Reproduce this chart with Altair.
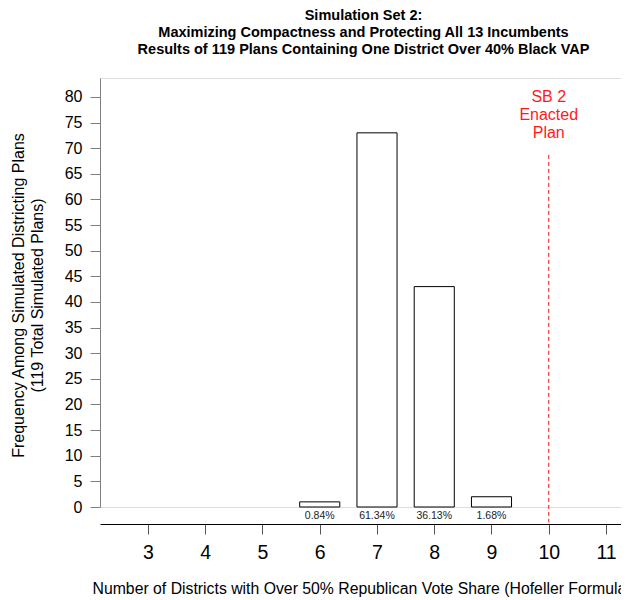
import altair as alt
import pandas as pd

FONT = "Liberation Sans"

districts = [6, 7, 8, 9]
frequencies = [1, 73, 43, 2]
percent_labels = ["0.84%", "61.34%", "36.13%", "1.68%"]
x_ticks = [3, 4, 5, 6, 7, 8, 9, 10, 11]
y_ticks = list(range(0, 85, 5))
enacted_value = [10]
enacted_label = ["SB 2\nEnacted\nPlan"]
title_lines = [
    "Simulation Set 2:",
    "Maximizing Compactness and Protecting All 13 Incumbents",
    "Results of 119 Plans Containing One District Over 40% Black VAP",
]
x_title = "Number of Districts with Over 50% Republican Vote Share (Hofeller Formula)"
y_title = ["Frequency Among Simulated Districting Plans", "(119 Total Simulated Plans)"]

half = 0.35
bars_df = pd.DataFrame({
    "d": districts,
    "f": frequencies,
    "lab": percent_labels,
})
bars_df["x0"] = bars_df["d"] - half
bars_df["x1"] = bars_df["d"] + half
bars_df["zero"] = 0

enact_df = pd.DataFrame({"x": enacted_value, "lab": enacted_label})
enact_df["top"] = 68.7
enact_df["bot"] = -3.0
enact_df["ly"] = 80.0

xs = alt.Scale(domain=[2.1616, 11.262], nice=False, zero=False)
ys = alt.Scale(domain=[0, 83.7], nice=False, zero=False)

xaxis = alt.Axis(
    values=x_ticks, title=x_title, grid=False, offset=17,
    domainColor="black", tickColor="#555555", tickSize=10,
    labelFont=FONT, labelFontSize=19.5, labelColor="black", labelPadding=9,
    titleFont=FONT, titleFontSize=15.8, titleFontWeight="normal", titleColor="black",
    titleAlign="left", titleX=-8, titleY=64, titleBaseline="middle",
)
yaxis = alt.Axis(
    values=y_ticks, title=y_title, grid=False,
    domainColor="#808080", tickColor="#808080", tickSize=10,
    labelFont=FONT, labelFontSize=16, labelColor="black", labelPadding=8,
    titleFont=FONT, titleFontSize=16, titleFontWeight="normal", titleColor="black",
    titleAngle=270, titleX=-82, titleY=217, titleBaseline="middle", titleLineHeight=19,
    titleAlign="center",
)

bars = alt.Chart(bars_df).mark_rect(fill="white", stroke="black", strokeWidth=1).encode(
    x=alt.X("x0:Q", scale=xs, axis=xaxis),
    x2="x1",
    y=alt.Y("f:Q", scale=ys, axis=yaxis),
    y2="zero",
)

pct = alt.Chart(bars_df).mark_text(
    font=FONT, fontSize=10.5, color="#222222", baseline="middle", align="center", dy=9
).encode(
    x=alt.X("d:Q", scale=xs, axis=xaxis),
    y=alt.Y("zero:Q", scale=ys, axis=yaxis),
    text="lab:N",
)

rule = alt.Chart(enact_df).mark_rule(color="#e8141c", strokeDash=[4, 3], strokeWidth=1).encode(
    x=alt.X("x:Q", scale=xs, axis=xaxis),
    y=alt.Y("top:Q", scale=ys, axis=yaxis),
    y2="bot",
)

label = alt.Chart(enact_df).mark_text(
    font=FONT, fontSize=16, color="#ff1a1a", baseline="middle", align="center",
    lineBreak="\n", lineHeight=18,
).encode(
    x=alt.X("x:Q", scale=xs, axis=xaxis),
    y=alt.Y("ly:Q", scale=ys, axis=yaxis),
    text="lab:N",
)

chart = alt.layer(bars, pct, rule, label).properties(
    width=521,
    height=429,
    autosize=alt.AutoSizeParams(type="none"),
    padding={"left": 92, "top": 70, "right": 0, "bottom": 90},
    title=alt.TitleParams(
        text=title_lines, font=FONT, fontSize=14.5, fontWeight="bold", color="black",
        anchor="middle", frame="group", offset=21, lineHeight=17, dx=3,
    ),
).configure_view(stroke=None).configure(background="white")

chart.save("out.html", embed_options={"renderer": "svg", "actions": False})
